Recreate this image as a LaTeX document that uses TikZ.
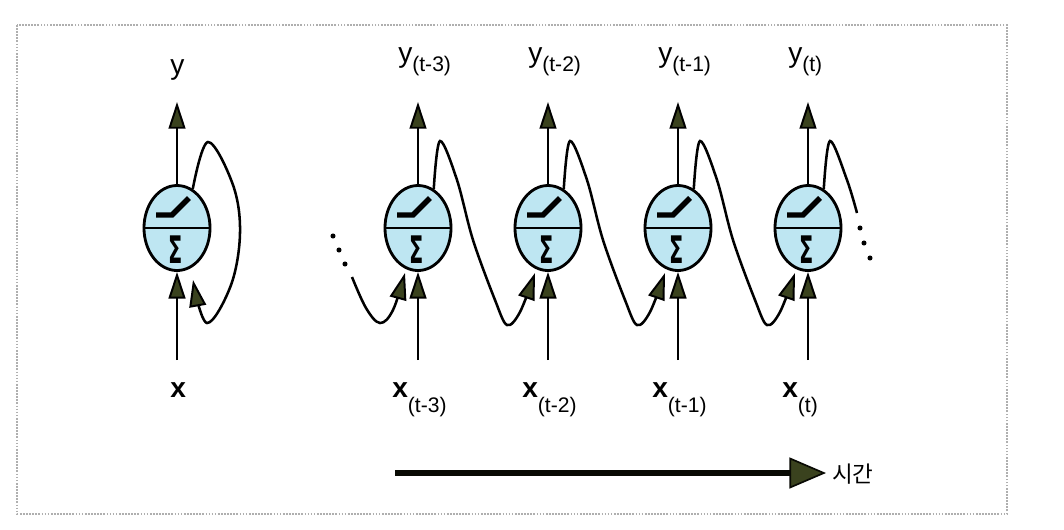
\documentclass[tikz,border=0pt]{standalone}
\usepackage{fontspec}
\setmainfont{Liberation Sans}
\newfontfamily\krfont{Noto Sans CJK KR}
\newfontfamily\sigfont{DejaVu Sans}
\usetikzlibrary{shapes.geometric, arrows.meta}

\definecolor{cellblue}{RGB}{190,230,242}
\definecolor{tipolive}{RGB}{58,66,30}
\definecolor{framegray}{RGB}{175,175,175}

% letter with a lowered index
\newcommand{\seqlab}[3]{{#1}\raisebox{#3}{\fontsize{15}{17}\selectfont\mdseries #2}}

\begin{document}
\begin{tikzpicture}[
      x=0.025cm, y=-0.025cm,
      cell/.style={ellipse, draw=black, line width=2pt,
                   fill=cellblue, minimum width=1.65cm,
                   minimum height=2.125cm, inner sep=0pt},
      flow/.style={draw=black, line width=1.8pt,
                   -{Triangle[length=19pt, width=12pt, fill=tipolive,
                              line width=1.4pt]}},
      wave/.style={draw=black, line width=1.8pt},
      relu/.style={line width=3.8pt},
      sigma/.style={inner sep=0pt, font=\sigfont\fontsize{27}{27}\selectfont\bfseries},
      lab/.style={inner sep=0pt, anchor=base west,
                  font=\fontsize{20}{24}\selectfont},
      timeflow/.style={draw=black!85!tipolive, line width=4pt,
                       -{Triangle[length=26pt, width=22pt, fill=tipolive,
                                  line width=1.2pt]}},
    ]

    \useasboundingbox (0,0) rectangle (1064,529);
    \draw[framegray, line width=1.2pt, densely dotted] (17,25) rectangle (1007,514);

    % ---- cells -----------------------------------------------------
    \foreach \i/\X in {0/177, 1/418, 2/548, 3/678, 4/808} {
      \node[cell] (n\i) at (\X,228) {};
      \draw[line width=2pt] (n\i.west) -- (n\i.east);
      \draw[relu] (\X-21,215) -- (\X-5,215) -- (\X+12,198);
      \node[sigma, anchor=base] (sig\i) at (\X-1,263) {\scalebox{0.55}[1]{Σ}};
      \coordinate (xin\i) at (\X,360);
      \coordinate (yout\i) at (\X,102);
      \draw[flow] (xin\i) -- (n\i.south);
      \draw[flow] (n\i.north) -- (yout\i);
    }

    % ---- labels ----------------------------------------------------
    \node[lab] (ylab0) at (170,74) {y};
    \node[lab] (xlab0) at (170,397) {\bfseries x};
    \foreach \i/\X/\t in {1/418/t-3, 2/548/t-2, 3/678/t-1, 4/808/t} {
      \node[lab] (ylab\i) at (\X-20,62) {\seqlab{y}{(\t)}{-7pt}};
      \node[lab] (xlab\i) at (\X-26,397) {\seqlab{\bfseries x}{(\t)}{-11pt}};
    }

    % ---- recurrent loop (folded) -----------------------------------
    \coordinate (rin0) at (193,280);
    \draw[flow] plot[smooth, tension=0.6] coordinates
      {(n0.68) (208,142) (233,185) (240,233) (231,285) (207,323) (rin0)};

    % ---- unrolled in time ------------------------------------------
    \foreach \i in {1,2,3,4} {
      \pgfmathsetmacro{\X}{288+130*\i}
      \coordinate (rin\i) at (\X-13,273);
    }
    \coordinate (lin) at (352,277);
    \draw[flow] plot[smooth, tension=0.6] coordinates
      {(lin) (366,308) (380,323) (393,310) (rin1)};
    \foreach \i/\j in {1/2, 2/3, 3/4} {
      \pgfmathsetmacro{\X}{288+130*\i}
      \draw[flow] plot[smooth, tension=0.55] coordinates
        {(n\i.68) (\X+22,141) (\X+39,180) (\X+55,240) (\X+77,300)
         (\X+89,325) (\X+102,312) (rin\j)};
    }
    \coordinate (rout) at (857,213);
    \draw[wave] plot[smooth, tension=0.55] coordinates
      {(n4.68) (830,141) (847,180) (rout)};

    % continuation dots
    \foreach \p in {(333,236), (339,250), (345,264),
                    (860,228), (864,243), (870,258)}
      \fill \p circle (1.8pt);

    % ---- time axis -------------------------------------------------
    \node[inner sep=0pt, anchor=west, font=\krfont\fontsize{16}{18}\selectfont]
      (tlab) at (832,474) {시간};
    \coordinate (tstart) at (395,473);
    \coordinate (tend) at (826,473);
    \draw[timeflow] (tstart) -- (tend);

  \end{tikzpicture}
\end{document}
